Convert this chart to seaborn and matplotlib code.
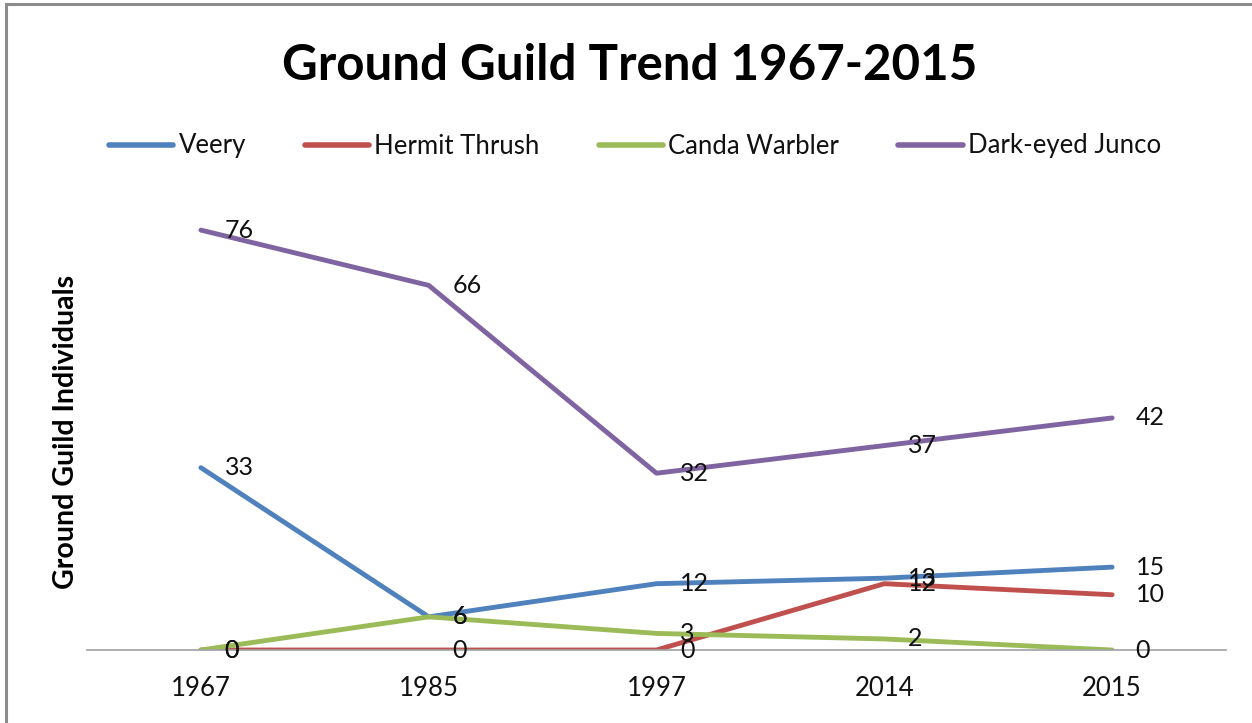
import pandas as pd
import matplotlib.pyplot as plt
import seaborn as sns
from matplotlib.patches import Rectangle

years = ['1967', '1985', '1997', '2014', '2015']
veery = [33, 6, 12, 13, 15]
hermit_thrush = [0, 0, 0, 12, 10]
canda_warbler = [0, 6, 3, 2, 0]
junco = [76, 66, 32, 37, 42]
species = ['Veery', 'Hermit Thrush', 'Canda Warbler', 'Dark-eyed Junco']
colors = ['#4F81BD', '#C0504D', '#9BBB59', '#8064A2']

# 长格式给seaborn用
df = pd.DataFrame({'year': years, 'Veery': veery, 'Hermit Thrush': hermit_thrush,
                   'Canda Warbler': canda_warbler, 'Dark-eyed Junco': junco})
long_df = pd.melt(df, id_vars='year', var_name='species', value_name='count')

sns.set_style('white')
plt.rcParams['font.family'] = ['Lato', 'DejaVu Sans']

fig = plt.figure(figsize=(12.52, 7.23), dpi=100)
ax = fig.add_axes([87 / 1252, 73 / 723, 1139 / 1252, 442 / 723])

sns.lineplot(data=long_df, x='year', y='count', hue='species', hue_order=species,
             palette=colors, linewidth=3.5, ax=ax, legend=False, sort=False)

# 数据标签放在点右边
for s in species:
    sub = long_df[long_df['species'] == s].reset_index(drop=True)
    for i, v in enumerate(sub['count']):
        ax.annotate(str(v), (i, v), xytext=(17, 0), textcoords='offset points',
                    ha='left', va='center', fontsize=18, color='#111111')

ax.set_xlim(-0.5, 4.5)
ax.set_ylim(0, 80)
ax.set_yticks([])
for side in ['top', 'right', 'left']:
    ax.spines[side].set_visible(False)
ax.spines['bottom'].set_color('#A0A0A0')
ax.spines['bottom'].set_linewidth(1.2)
ax.tick_params(axis='x', length=0, pad=19, labelsize=18.5, labelcolor='#111111')
ax.set_xlabel('')
ax.set_ylabel('')

fig.text(66 / 1252, 1 - 432 / 723, 'Ground Guild Individuals', rotation=90,
         ha='center', va='center', fontsize=20.5, fontweight='bold', color='black')
fig.text(630 / 1252, 1 - 65 / 723, 'Ground Guild Trend 1967-2015', ha='center',
         va='center', fontsize=35.5, fontweight='bold', color='black')

handles = [plt.Line2D([], [], color=c, lw=4, solid_capstyle='round') for c in colors]
fig.legend(handles, species, loc='center', bbox_to_anchor=(635 / 1252, 1 - 146 / 723),
           ncol=4, frameon=False, fontsize=18.5, handlelength=2.5, handletextpad=0.2,
           columnspacing=2.3, labelcolor='#111111')

# 外框
fig.add_artist(Rectangle((6 / 1252, -0.1), 1.2, 1 - 4 / 723 + 0.1, fill=False,
                         edgecolor='#8C8C8C', linewidth=2.2, transform=fig.transFigure))

fig.savefig('out.png', dpi=100)
